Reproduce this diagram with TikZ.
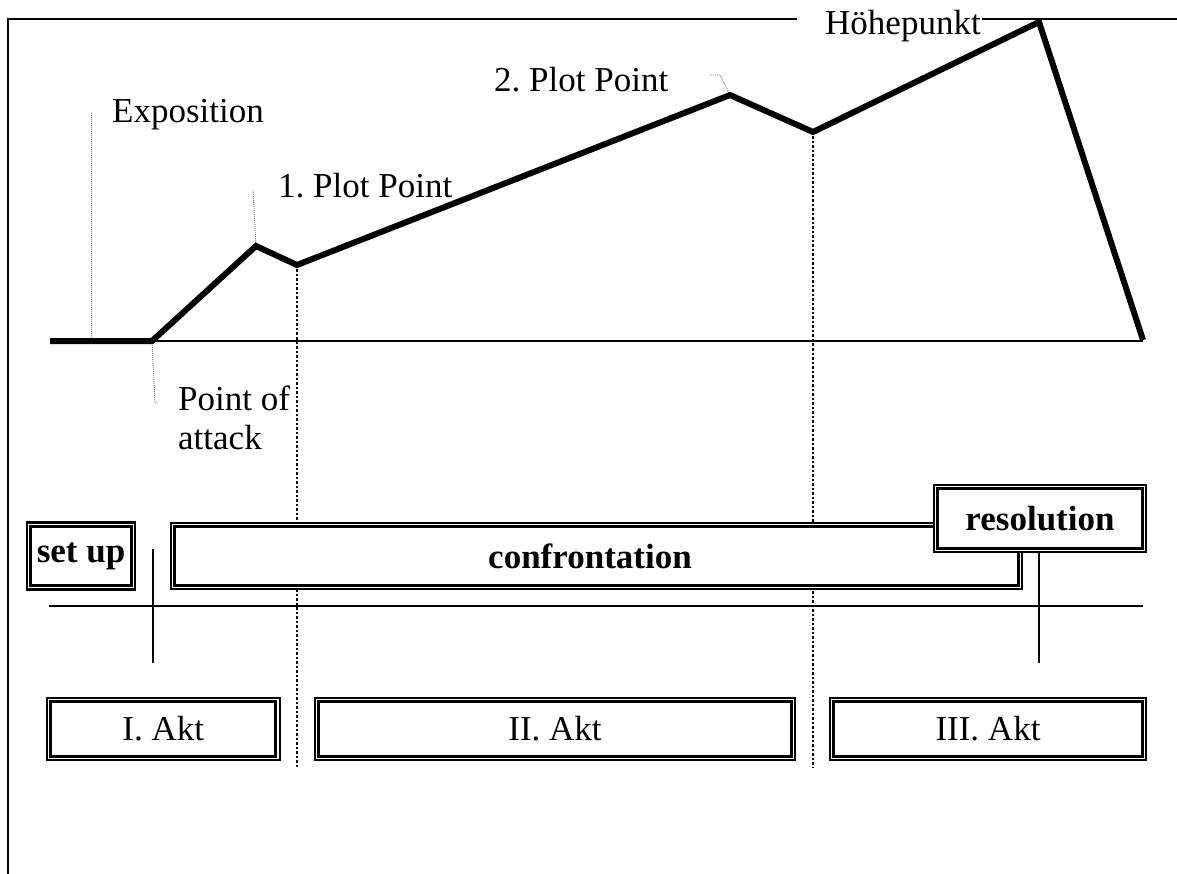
\documentclass[tikz,border=0pt]{standalone}
\usepackage{fontspec}
\setmainfont{Liberation Serif}
\begin{document}
\begin{tikzpicture}[x=1pt,y=-1pt,
  lbl/.style={inner sep=0pt,anchor=base west,font=\fontsize{35}{39}\selectfont\frenchspacing},
  dbox/.style={draw,line width=2.2pt,fill=white,inner sep=0pt,font=\fontsize{35}{39}\selectfont\frenchspacing},
  bbox/.style={dbox,font=\fontsize{35}{39}\selectfont\bfseries},
  inner/.style={line width=3pt},
  thin/.style={line width=1.4pt},
  dotln/.style={line width=0.9pt,gray,dash pattern=on 1pt off 1pt},
  dashln/.style={line width=1.4pt,dash pattern=on 2.5pt off 2pt},
  plot/.style={line width=6pt,line join=miter}]
\useasboundingbox (0,0) rectangle (1177,874);

% labels
\node[lbl] (expo) at (112,123) {Exposition};
\node[lbl] (pp1) at (278,198) {1. Plot Point};
\node[lbl] (pp2) at (494,92) {2. Plot Point};
\node[lbl] (hp) at (825,35) {Höhepunkt};
\node[lbl,align=left] (poa) at (178,449) {Point of\\attack};

% frame
\coordinate (fl) at (8,874);
\coordinate (fa) at (797,19);
\coordinate (fb) at (982,19);
\coordinate (fr) at (1177,19);
\draw[line width=2.5pt] (fl) |- (fa);
\draw[line width=2.5pt] (fb) -- (fr);

% curve points
\coordinate (c0) at (50,341);
\coordinate (c1) at (152,341);
\coordinate (c2) at (256,246);
\coordinate (c3) at (297,265);
\coordinate (c4) at (730,95);
\coordinate (c5) at (813,132);
\coordinate (c6) at (1039,22);
\coordinate (c7) at (1143,340);

% thin lines
\coordinate (hl1) at (49,606);
\coordinate (hr1) at (1143,606);
\coordinate (v1t) at (153,549);
\coordinate (v1b) at (153,663);
\coordinate (v2b) at (1039,663);
\draw[thin] (c1) -- (c7 |- c1);
\draw[thin] (hl1) -- (hr1);
\draw[thin] (v1t) -- (v1b);

% dotted leaders
\draw[dotln] (91,113) -- (91,341);
\draw[dotln] (253,190) -- (c2);
\draw[dotln] (709,75) -- (720,75) -- (c4);
\draw[dotln] (c1) -- (155,403) -- (158,403);

% dashed act dividers
\coordinate (d1) at (297,767);
\coordinate (d2) at (813,767);
\draw[dashln] (c3) -- (d1);
\draw[dashln] (c5) -- (d2);

% plot line
\draw[plot] (c0) -- (c1) -- (c2) -- (c3) -- (c4) -- (c5) -- (c6) -- (c7);

% upper boxes
\node[bbox,minimum width=108pt,minimum height=67pt] (setup) at (81,556) {set up};
\draw[inner] ([shift={(5pt,-5pt)}]setup.north west) rectangle ([shift={(-5pt,5pt)}]setup.south east);

\node[bbox,minimum width=851pt,minimum height=66pt,text width=839pt,align=center] (conf) at (596.5,556) {\hspace*{-13pt}confrontation};
\draw[inner] ([shift={(5pt,-5pt)}]conf.north west) rectangle ([shift={(-5pt,5pt)}]conf.south east);

\node[bbox,minimum width=212pt,minimum height=67pt] (res) at (1040,518.5) {resolution};
\draw[inner] ([shift={(5pt,-5pt)}]res.north west) rectangle ([shift={(-5pt,5pt)}]res.south east);
\draw[thin] (res.south -| v2b) -- (v2b);

% act boxes
\node[dbox,minimum width=233pt,minimum height=62pt] (a1) at (163.2,729) {I. Akt};
\draw[inner] ([shift={(5pt,-5pt)}]a1.north west) rectangle ([shift={(-5pt,5pt)}]a1.south east);
\node[dbox,minimum width=480pt,minimum height=62pt] (a2) at (555,729) {II. Akt};
\draw[inner] ([shift={(5pt,-5pt)}]a2.north west) rectangle ([shift={(-5pt,5pt)}]a2.south east);
\node[dbox,minimum width=316pt,minimum height=62pt] (a3) at (988,729) {III. Akt};
\draw[inner] ([shift={(5pt,-5pt)}]a3.north west) rectangle ([shift={(-5pt,5pt)}]a3.south east);
\end{tikzpicture}
\end{document}
